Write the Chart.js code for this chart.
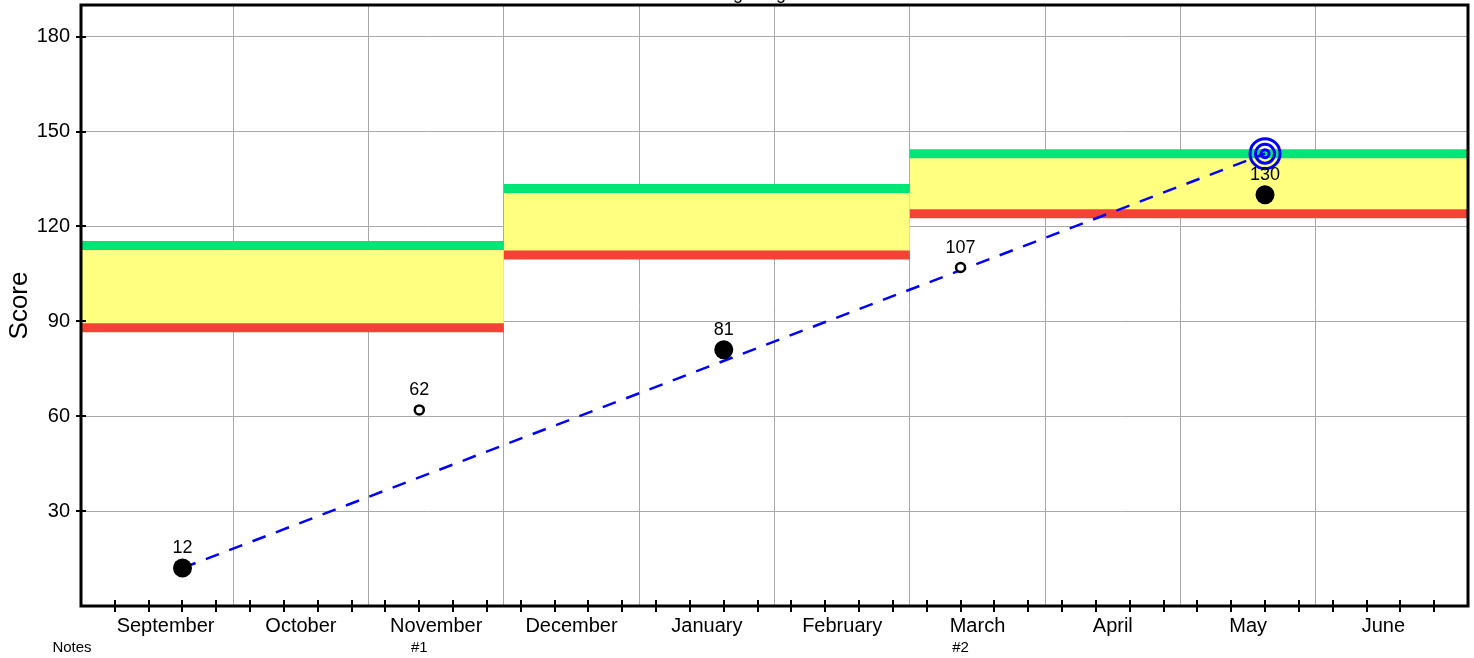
<!DOCTYPE html>
<html>
<head>
<meta charset="utf-8">
<script src="https://cdn.jsdelivr.net/npm/chart.js@4.4.1/dist/chart.umd.min.js"></script>
<style>
  html, body { margin: 0; padding: 0; background: #ffffff; }
  #wrap { width: 1474px; height: 658px; position: relative; }
</style>
</head>
<body>
<div id="wrap"><canvas id="progress"></canvas></div>
<script>
// ---- chart data ----
const chartTitle = 'Reading Progress';
const months = ['September', 'October', 'November', 'December', 'January',
                'February', 'March', 'April', 'May', 'June'];
const weeksPerMonth = 4;
const yTickValues = [30, 60, 90, 120, 150, 180];

// scores by school week (week 1 = first week of September)
const scoreWeeks = [3, 10, 19, 26, 35];
const scoreValues = [12, 62, 81, 107, 130];
const scoreIsCheckpoint = [false, true, false, true, false];

// benchmark bands: upper (green) and lower (red) limits per period
const bandStartWeeks = [0, 12.5, 24.5];
const bandEndWeeks = [12.5, 24.5, 41];
const bandUpper = [114, 132, 143];
const bandLower = [88, 111, 124];

// goal and aim line
const goalWeek = 35;
const goalScore = 143;
const goalRingRadii = [15, 9.5, 4];

// notes row under the axis
const notesHeading = 'Notes';
const noteLabels = ['#1', '#2'];
const noteWeeks = [10, 26];

// ---- styling ----
const FONT = '"Liberation Sans", Arial, Helvetica, sans-serif';
Chart.defaults.font.family = FONT;
Chart.defaults.color = '#000';

const GREEN = '#00e676';
const RED = '#f44336';
const YELLOW = '#ffff80';
const BLUE = '#0000ff';
const GRID = '#a8a8a8';

const totalWeeks = months.length * weeksPerMonth + 1;

// ---- datasets ----
const datasets = [];

datasets.push({
  label: 'scores',
  type: 'scatter',
  data: scoreWeeks.map((w, i) => ({ x: w, y: scoreValues[i] })).filter((p, i) => !scoreIsCheckpoint[i]),
  pointRadius: 9.5,
  pointHoverRadius: 9.5,
  backgroundColor: '#000',
  borderColor: '#000',
  borderWidth: 0,
  order: 0
});
datasets.push({
  label: 'checkpoints',
  type: 'scatter',
  data: scoreWeeks.map((w, i) => ({ x: w, y: scoreValues[i] })).filter((p, i) => scoreIsCheckpoint[i]),
  pointRadius: 4.5,
  pointHoverRadius: 4.5,
  backgroundColor: '#fff',
  borderColor: '#000',
  borderWidth: 2.5,
  order: 0
});
goalRingRadii.forEach(r => {
  datasets.push({
    label: 'goal',
    type: 'scatter',
    data: [{ x: goalWeek, y: goalScore }],
    pointRadius: r,
    pointHoverRadius: r,
    backgroundColor: 'rgba(0,0,0,0)',
    borderColor: BLUE,
    borderWidth: 3,
    order: 1
  });
});
datasets.push({
  label: 'aim line',
  type: 'line',
  data: [{ x: scoreWeeks[0], y: scoreValues[0] }, { x: goalWeek, y: goalScore }],
  borderColor: BLUE,
  borderWidth: 2.5,
  borderDash: [14, 11],
  pointRadius: 0,
  fill: false,
  order: 2
});
bandUpper.forEach((hi, i) => {
  datasets.push({
    label: 'upper ' + i,
    type: 'line',
    data: [{ x: bandStartWeeks[i], y: hi }, { x: bandEndWeeks[i], y: hi }],
    borderColor: GREEN,
    borderWidth: 9,
    borderCapStyle: 'butt',
    pointRadius: 0,
    backgroundColor: YELLOW,
    fill: '+1',
    order: 4
  });
  datasets.push({
    label: 'lower ' + i,
    type: 'line',
    data: [{ x: bandStartWeeks[i], y: bandLower[i] }, { x: bandEndWeeks[i], y: bandLower[i] }],
    borderColor: RED,
    borderWidth: 9,
    borderCapStyle: 'butt',
    pointRadius: 0,
    fill: false,
    order: 3
  });
});

// ---- plugins ----
const scoreLabels = {
  id: 'scoreLabels',
  afterDatasetsDraw(chart) {
    const ctx = chart.ctx;
    ctx.save();
    ctx.font = '18px ' + FONT;
    ctx.fillStyle = '#000';
    ctx.textAlign = 'center';
    ctx.textBaseline = 'middle';
    [0, 1].forEach(di => {
      const meta = chart.getDatasetMeta(di);
      meta.data.forEach((el, j) => {
        ctx.fillText(String(chart.data.datasets[di].data[j].y), el.x, el.y - 20);
      });
    });
    ctx.restore();
  }
};

const frame = {
  id: 'frame',
  afterDraw(chart) {
    const { ctx, chartArea: a, scales } = chart;
    const xs = scales.x, ys = scales.y;
    ctx.save();
    ctx.strokeStyle = '#000';
    // weekly tick marks
    ctx.lineWidth = 2;
    ctx.beginPath();
    for (let w = 1; w < totalWeeks; w++) {
      const px = Math.round(xs.getPixelForValue(w));
      ctx.moveTo(px, a.bottom - 6);
      ctx.lineTo(px, a.bottom + 6);
    }
    yTickValues.forEach(v => {
      const py = Math.round(ys.getPixelForValue(v));
      ctx.moveTo(a.left - 5, py);
      ctx.lineTo(a.left + 5, py);
    });
    ctx.stroke();
    // plot box
    ctx.lineWidth = 3;
    ctx.strokeRect(a.left, a.top, a.right - a.left, a.bottom - a.top);
    // notes row
    ctx.fillStyle = '#000';
    ctx.font = '15px ' + FONT;
    ctx.textAlign = 'center';
    ctx.textBaseline = 'middle';
    ctx.fillText(notesHeading, a.left - 9, 648);
    noteLabels.forEach((t, i) => ctx.fillText(t, xs.getPixelForValue(noteWeeks[i]), 648));
    // title
    ctx.font = '18px ' + FONT;
    ctx.textBaseline = 'alphabetic';
    ctx.fillText(chartTitle, 748, -1);
    ctx.restore();
  }
};

// scales keep no extra edge padding for their outer labels
function noEdgePadding(s) {
  s.paddingTop = 0; s.paddingBottom = 0; s.paddingLeft = 0; s.paddingRight = 0;
}

// ---- chart ----
new Chart(document.getElementById('progress'), {
  type: 'scatter',
  data: { datasets },
  options: {
    responsive: true,
    maintainAspectRatio: false,
    animation: false,
    events: [],
    layout: { autoPadding: false, padding: { top: 5, right: 6, left: 0, bottom: 0 } },
    plugins: {
      legend: { display: false },
      tooltip: { enabled: false },
      filler: { drawTime: 'beforeDatasetsDraw' }
    },
    scales: {
      x: {
        type: 'linear', position: 'bottom', min: 0, max: totalWeeks,
        afterBuildTicks: s => { s.ticks = months.map((m, i) => ({ value: i * weeksPerMonth + 2.5 })); },
        ticks: {
          autoSkip: false, maxRotation: 0, padding: 8,
          font: { size: 20 }, color: '#000',
          callback: (v, i) => months[i]
        },
        grid: { display: false, drawTicks: false },
        border: { display: false },
        afterFit: s => { s.height = 52; noEdgePadding(s); }
      },
      xg: {
        type: 'linear', position: 'bottom', min: 0, max: totalWeeks,
        afterBuildTicks: s => {
          s.ticks = months.slice(1).map((m, i) => ({ value: (i + 1) * weeksPerMonth + 0.5 }));
        },
        ticks: { display: false },
        grid: { color: GRID, lineWidth: 1, drawTicks: false },
        border: { display: false },
        afterFit: s => { s.height = 0; noEdgePadding(s); }
      },
      y: {
        type: 'linear', min: 0, max: 190,
        afterBuildTicks: s => { s.ticks = yTickValues.map(v => ({ value: v })); },
        ticks: { padding: 11, font: { size: 20 }, color: '#000' },
        grid: { color: GRID, lineWidth: 1, drawTicks: false },
        border: { display: false },
        title: { display: true, text: 'Score', font: { size: 26 }, color: '#000', padding: { top: 4, bottom: 0 } },
        afterFit: s => { s.width = 81; noEdgePadding(s); }
      }
    }
  },
  plugins: [scoreLabels, frame]
});
</script>
</body>
</html>
